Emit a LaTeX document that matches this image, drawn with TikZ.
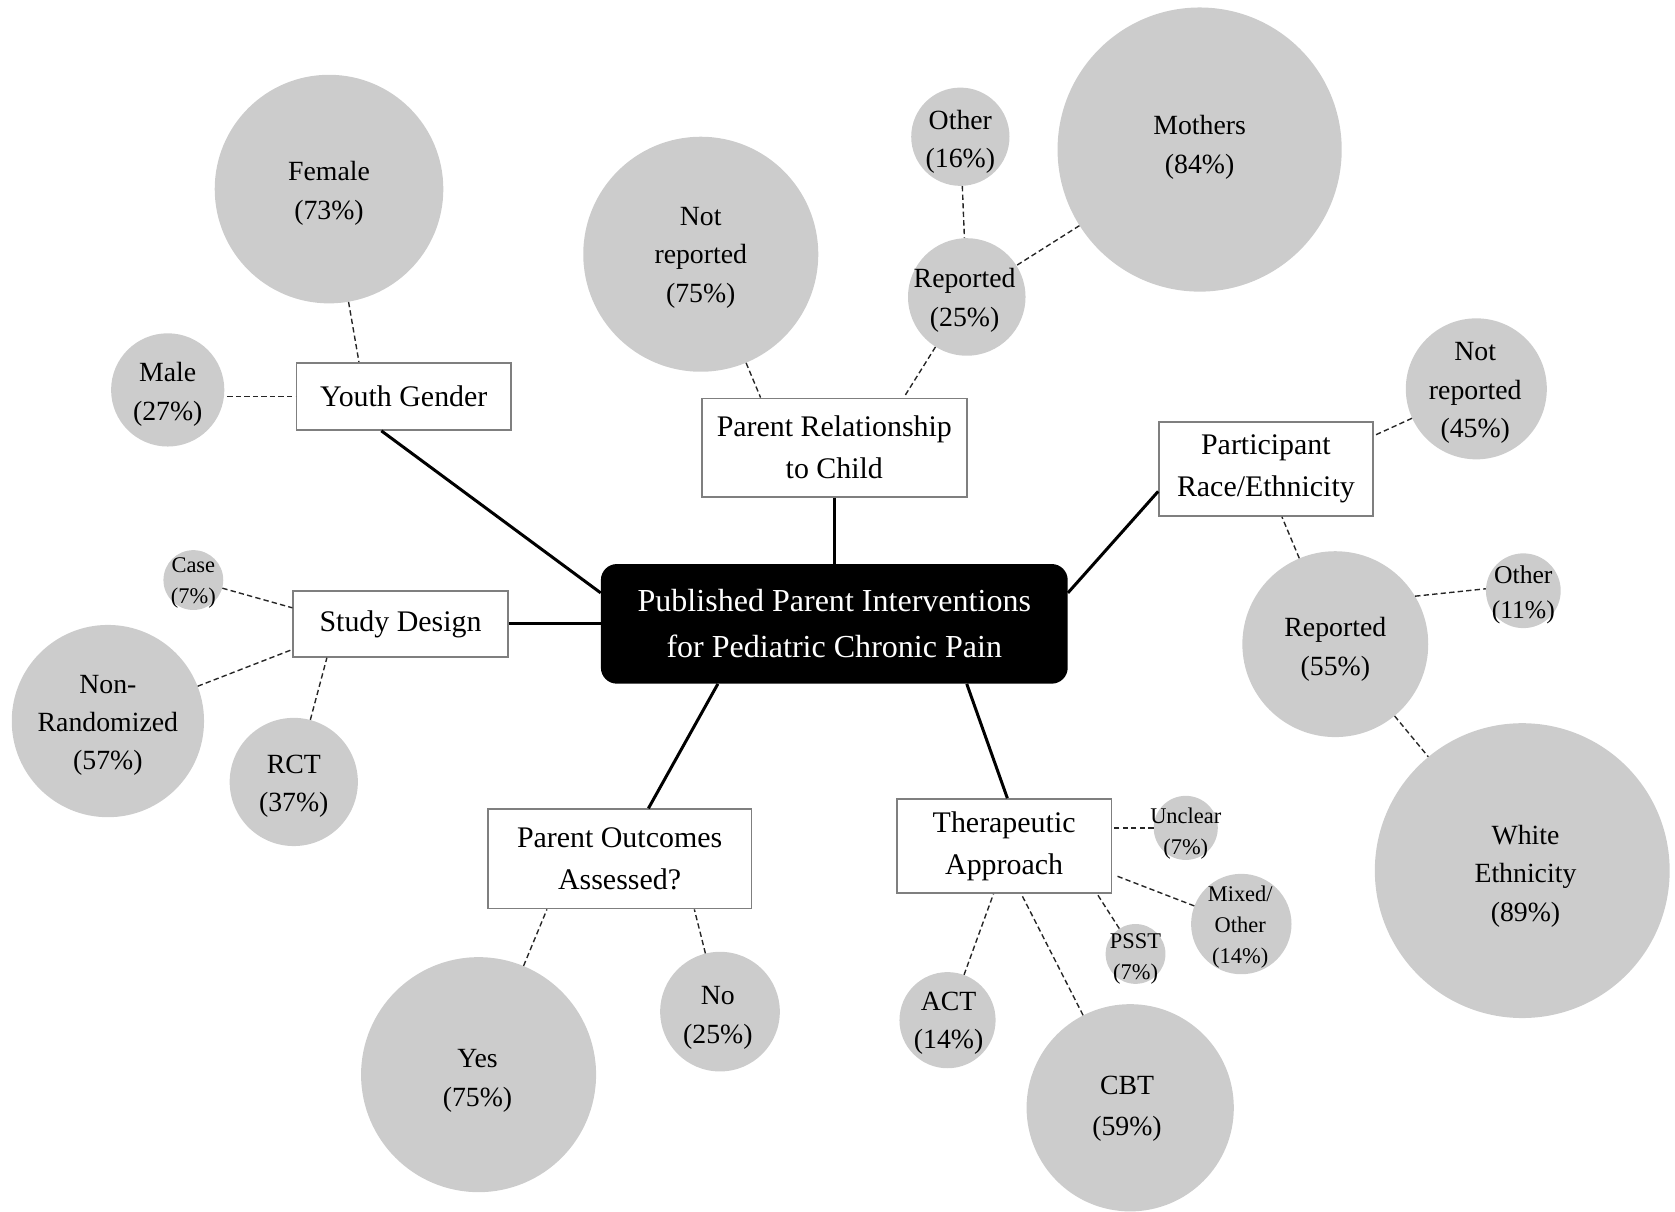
\documentclass[tikz,border=0pt]{standalone}
\usepackage{fontspec}
\setmainfont{Liberation Serif}
\definecolor{bubgray}{HTML}{CCCCCC}
\definecolor{boxgray}{HTML}{7F7F7F}
\begin{document}
\begin{tikzpicture}[x=1pt,y=1pt,
  bub/.style={circle,fill=bubgray,draw=none,inner sep=0pt},
  tM/.style={align=center,font=\fontsize{26}{36}\selectfont,inner sep=0pt,yshift=-3pt},
  tS/.style={align=center,font=\fontsize{21}{29}\selectfont,inner sep=0pt,yshift=-2pt},
  tO/.style={align=center,font=\fontsize{24}{33}\selectfont,inner sep=0pt,yshift=-2pt},
  catbox/.style={draw=boxgray,line width=1.6pt,fill=white,align=center,font=\fontsize{28}{39}\selectfont,inner sep=0pt},
  hub/.style={fill=black,rounded corners=15pt,text=white,align=center,font=\fontsize{30}{43}\selectfont,inner sep=0pt,minimum width=437pt,minimum height=112pt},
  solidc/.style={line width=2.8pt,black},
  dashc/.style={line width=1.3pt,dash pattern=on 5pt off 3pt,black!85}
]
\useasboundingbox (0,0) rectangle (1568,-1134);

% central
\node[hub] (hub) at (781,-584) {Published Parent Interventions\\for Pediatric Chronic Pain};

% category boxes
\node[catbox,minimum width=201pt,minimum height=63pt] (yg) at (378,-371) {Youth Gender};
\node[catbox,minimum width=201pt,minimum height=62pt] (sd) at (375,-584) {Study Design};
\node[catbox,minimum width=248pt,minimum height=92pt] (pr) at (781,-419) {Parent Relationship\\to Child};
\node[catbox,minimum width=200pt,minimum height=88pt] (pre) at (1185,-439) {Participant\\Race/Ethnicity};
\node[catbox,minimum width=201pt,minimum height=88pt] (ta) at (940,-792) {Therapeutic\\Approach};
\node[catbox,minimum width=247pt,minimum height=93pt] (poa) at (580,-804) {Parent Outcomes\\Assessed?};

% bubbles
\node[bub,minimum size=214pt] (female) at (308,-177) {};
\node[tM] at (308,-178) {Female\\(73\%)};
\node[bub,minimum size=106pt] (male) at (157,-365) {};
\node[tM] at (157,-366) {Male\\(27\%)};

\node[bub,minimum size=56pt] (case) at (181,-543) {};
\node[tS] at (181,-544) {Case\\(7\%)};
\node[bub,minimum size=180pt] (nonrand) at (101,-675) {};
\node[tM] at (101,-676) {Non-\\Randomized\\(57\%)};
\node[bub,minimum size=120pt] (rct) at (275,-732) {};
\node[tM] at (275,-733) {RCT\\(37\%)};

\node[bub,minimum size=220pt] (notrep) at (656,-238) {};
\node[tM] at (656,-238) {Not\\reported\\(75\%)};
\node[bub,minimum size=110pt] (rep) at (905,-278) {};
\node[tM] at (903,-278) {Reported\\(25\%)};
\node[bub,minimum size=92pt] (oth16) at (899,-128) {};
\node[tM] at (899,-130) {Other\\(16\%)};
\node[bub,minimum size=266pt] (mothers) at (1123,-140) {};
\node[tM] at (1123,-135) {Mothers\\(84\%)};

\node[bub,minimum size=132pt] (notrep45) at (1382,-364) {};
\node[tM] at (1381,-365) {Not\\reported\\(45\%)};
\node[bub,minimum size=174pt] (rep55) at (1250,-603) {};
\node[tM] at (1250,-605) {Reported\\(55\%)};
\node[bub,minimum size=70pt] (oth11) at (1426,-553) {};
\node[tO] at (1426,-555) {Other\\(11\%)};
\node[bub,minimum size=276pt] (white) at (1425,-815) {};
\node[tM] at (1428,-817) {White\\Ethnicity\\(89\%)};

\node[bub,minimum size=60pt] (unclear) at (1110,-775) {};
\node[tS] at (1110,-778) {Unclear\\(7\%)};
\node[bub,minimum size=94pt] (mixed) at (1162,-865) {};
\node[tS] at (1161,-866) {Mixed/\\Other\\(14\%)};
\node[bub,minimum size=56pt] (psst) at (1063,-893) {};
\node[tS] at (1063,-896) {PSST\\(7\%)};
\node[bub,minimum size=90pt] (act) at (887,-955) {};
\node[tM] at (888,-955) {ACT\\(14\%)};
\node[bub,minimum size=194pt] (cbt) at (1058,-1037) {};
\node[tM,font=\fontsize{26}{38}\selectfont] at (1055,-1035) {CBT\\(59\%)};

\node[bub,minimum size=220pt] (yes) at (448,-1006) {};
\node[tM] at (447,-1009) {Yes\\(75\%)};
\node[bub,minimum size=112pt] (no) at (674,-947) {};
\node[tM] at (672,-950) {No\\(25\%)};

% solid connectors
\draw[solidc] ([xshift=-21pt]yg.south) -- ([yshift=29pt]hub.west);
\draw[solidc] (sd) -- (hub);
\draw[solidc] (pr) -- (hub);
\draw[solidc] ([yshift=-21pt]pre.west) -- ([yshift=29pt]hub.east);
\draw[solidc] ([xshift=3pt]ta.north) -- ([xshift=124pt]hub.south);
\draw[solidc] ([xshift=27pt]poa.north) -- ([xshift=-109pt]hub.south);

% dashed connectors
\draw[dashc] ([xshift=-64pt]yg.west) -- (yg.west);
\draw[dashc] (female) -- ([xshift=-42pt]yg.north);
\draw[dashc] (case) -- ([yshift=15pt]sd.west);
\draw[dashc] (nonrand) -- ([yshift=-24pt]sd.west);
\draw[dashc] (rct) -- ([xshift=-69pt]sd.south);

\draw[dashc] (notrep) -- ([xshift=-69pt]pr.north);
\draw[dashc] (rep) -- ([xshift=65pt]pr.north);
\draw[dashc] (oth16) -- (rep);
\draw[dashc] (mothers) -- (rep);

\draw[dashc] (notrep45) -- ([yshift=31pt]pre.east);
\draw[dashc] (rep55) -- ([xshift=15pt]pre.south);
\draw[dashc] (rep55.31) -- (oth11.177);
\draw[dashc] (rep55) -- (white);

\draw[dashc] (unclear) -- ([yshift=17pt]ta.east);
\draw[dashc] (mixed) -- ([xshift=4pt,yshift=-28pt]ta.east);
\draw[dashc] (psst) -- ([xshift=87pt]ta.south);
\draw[dashc] (act) -- ([xshift=-10pt]ta.south);
\draw[dashc] (cbt) -- ([xshift=16pt]ta.south);

\draw[dashc] (yes) -- ([xshift=-68pt]poa.south);
\draw[dashc] (no) -- ([xshift=70pt]poa.south);
\end{tikzpicture}
\end{document}
